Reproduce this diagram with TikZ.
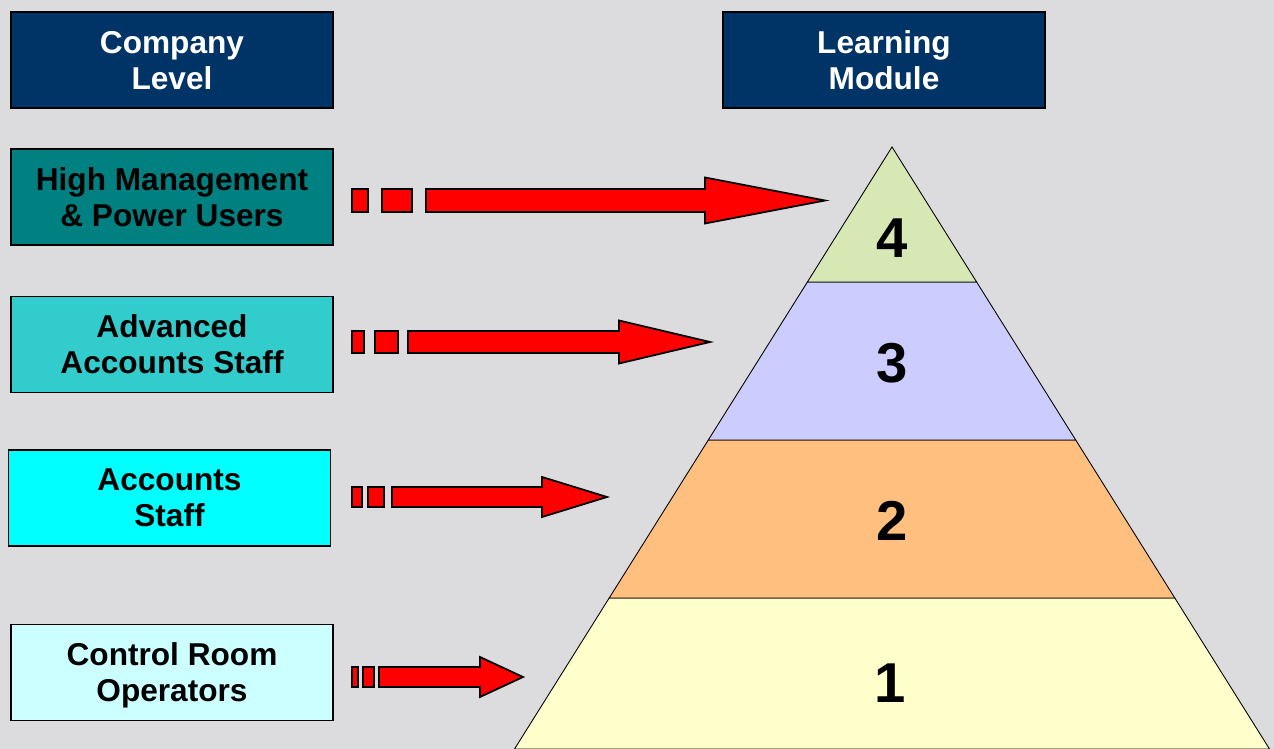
\documentclass[tikz,border=0pt]{standalone}
\usepackage{fontspec}
\setmainfont{Liberation Sans}
\usetikzlibrary{positioning}

\definecolor{bgray}{HTML}{DCDCDE}
\definecolor{navyhdr}{HTML}{003366}
\definecolor{tealbox}{HTML}{008080}
\definecolor{aquabox}{HTML}{33CCCC}
\definecolor{cyanbox}{HTML}{00FFFF}
\definecolor{palebox}{HTML}{CCFFFF}
\definecolor{lvlfour}{HTML}{D7E8B4}
\definecolor{lvlthree}{HTML}{CCCCFF}
\definecolor{lvltwo}{HTML}{FFBF7F}
\definecolor{lvlone}{HTML}{FFFFCC}

\tikzset{
  levelbox/.style={draw=black, line width=1pt, minimum width=6.44cm, minimum height=1.92cm,
    align=center, inner sep=0pt, text depth=0pt, font=\fontsize{18}{20.5}\selectfont\bfseries},
  hdrbox/.style={levelbox, fill=navyhdr, text=white},
  numlabel/.style={font=\fontsize{32}{36}\selectfont\bfseries},
  tier/.style={draw=black, line width=0.5pt},
  redarrow/.style={draw=black, line width=1pt, fill=red, line join=miter}
}

\begin{document}
\begin{tikzpicture}[x=0.02cm, y=-0.02cm]
% Background
\fill[bgray] (0,0) rectangle (1274,749);
\useasboundingbox (0,0) rectangle (1274,749);
% Headers
\node[hdrbox] at (172, 60)  (companyhdr) {Company\\Level};
\node[hdrbox] at (884, 60)  (modulehdr)  {Learning\\Module};
% Company levels
\node[levelbox, fill=tealbox] at (172, 197)   (highmgmt) {High Management\\\& Power Users};
\node[levelbox, fill=aquabox] at (172, 344.5) (advstaff) {Advanced\\Accounts Staff};
\node[levelbox, fill=cyanbox] at (169.5, 498) (accstaff) {Accounts\\Staff};
\node[levelbox, fill=palebox] at (172, 672.5) (ctrlops)  {Control Room\\Operators};
% Pyramid corners
\coordinate (apex) at (892, 147);
\coordinate (l4a) at (807.4, 282);  \coordinate (l4b) at (976.6, 282);
\coordinate (l3a) at (708.3, 440);  \coordinate (l3b) at (1075.7, 440);
\coordinate (l2a) at (609.2, 598);  \coordinate (l2b) at (1174.8, 598);
\coordinate (l1a) at (514.5, 749);  \coordinate (l1b) at (1269.5, 749);
% Pyramid tiers
\filldraw[tier, fill=lvlone]   (l2a) -- (l2b) -- (l1b) -- (l1a) -- cycle;
\filldraw[tier, fill=lvltwo]   (l3a) -- (l3b) -- (l2b) -- (l2a) -- cycle;
\filldraw[tier, fill=lvlthree] (l4a) -- (l4b) -- (l3b) -- (l3a) -- cycle;
\filldraw[tier, fill=lvlfour]  (apex) -- (l4b) -- (l4a) -- cycle;
\node[numlabel] at (892, 238) (mod4) {4};
\node[numlabel] at (892, 363) (mod3) {3};
\node[numlabel] at (892, 521) (mod2) {2};
\node[numlabel] at (890, 683) (mod1) {1};
% Arrows from levels to modules
\foreach \yc/\sa/\sb/\sc/\sd/\bx/\hx/\tx/\hs/\hh in {
  200.5/352/368/382/412/426/705/825/11.5/23,
  342/352/364/375/398/408/619/710/11/21.5,
  497/352/362/368/384/392/542/607/10/20,
  677/352/358/363/374/379/480/523/10/20}{
  \filldraw[redarrow] (\sa, \yc-\hs) rectangle (\sb, \yc+\hs);
  \filldraw[redarrow] (\sc, \yc-\hs) rectangle (\sd, \yc+\hs);
  \filldraw[redarrow] (\bx, \yc-\hs) -- (\hx, \yc-\hs) -- (\hx, \yc-\hh) -- (\tx, \yc)
    -- (\hx, \yc+\hh) -- (\hx, \yc+\hs) -- (\bx, \yc+\hs) -- cycle;
}
\end{tikzpicture}
\end{document}
